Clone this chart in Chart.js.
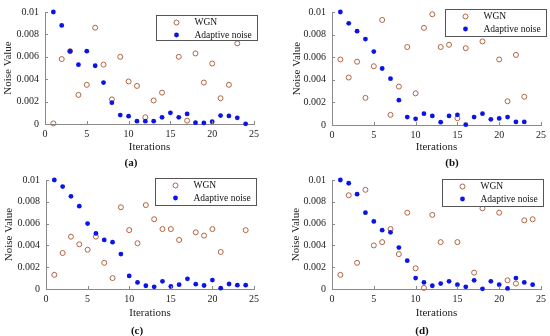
<!DOCTYPE html>
<html>
<head>
<meta charset="utf-8">
<script src="https://cdn.jsdelivr.net/npm/chart.js@4.4.1/dist/chart.umd.min.js"></script>
<style>
  body { margin: 0; background: #fff; }
  #wrap { position: relative; width: 550px; height: 336px; }
  #wrap canvas { position: absolute; }
</style>
</head>
<body>
<div id="wrap">
  <canvas id="chartA" width="275" height="168" style="left:0;top:0"></canvas>
  <canvas id="chartB" width="275" height="168" style="left:275px;top:0"></canvas>
  <canvas id="chartC" width="275" height="168" style="left:0;top:168px"></canvas>
  <canvas id="chartD" width="275" height="168" style="left:275px;top:168px"></canvas>
</div>
<script>
// iterations 1..24
const iterations = [1, 2, 3, 4, 5, 6, 7, 8, 9, 10, 11, 12, 13, 14, 15, 16, 17, 18, 19, 20, 21, 22, 23, 24];

// noise values (null = no marker)
const wgnA = [0.00005, 0.0058, 0.0065, 0.0026, 0.0035, 0.0086, 0.0053, 0.0022, 0.006, 0.0038, 0.0034, 0.0006, 0.0021, 0.0028, null, 0.006, 0.0003, 0.0063, 0.0037, 0.0054, 0.0023, 0.0035, 0.0072, null];
const adaptiveA = [0.01, 0.0088, 0.0065, 0.0053, 0.0065, 0.0052, 0.0037, 0.0019, 0.0008, 0.0007, 0.00025, 0.00025, 0.00025, 0.0006, 0.001, 0.0006, 0.0009, 0.00012, 0.0001, 0.0002, 0.00075, 0.00072, 0.00055, 0.00002];

const wgnB = [0.0058, 0.0042, 0.0056, 0.0024, 0.0052, 0.0093, 0.0009, 0.0034, 0.0069, 0.0028, 0.0086, 0.0098, 0.0069, 0.0071, 0.0006, 0.0068, null, 0.0074, null, 0.0058, 0.0021, 0.0062, 0.0025, null];
const adaptiveB = [0.01, 0.009, 0.0083, 0.0076, 0.0065, 0.005, 0.0041, 0.0022, 0.0007, 0.00055, 0.001, 0.0008, 0.00025, 0.0008, 0.0009, 0.00003, 0.0007, 0.001, 0.0005, 0.00058, 0.0007, 0.00027, 0.00027, null];

const wgnC = [0.0013, 0.0033, 0.0048, 0.0041, 0.0036, 0.0048, 0.0024, 0.001, 0.0075, 0.0054, 0.0042, 0.0077, 0.0064, 0.0055, 0.0055, 0.0045, null, 0.0052, 0.0049, 0.0055, 0.0034, null, null, 0.0054];
const adaptiveC = [0.01, 0.0094, 0.0085, 0.0076, 0.006, 0.0051, 0.0045, 0.0043, 0.0032, 0.0012, 0.0006, 0.0003, 0.0002, 0.0007, 0.00023, 0.0004, 0.00093, 0.00044, 0.00032, 0.00082, 0.00008, 0.00046, 0.00035, 0.00035];

const wgnD = [0.0013, 0.0086, 0.0024, 0.0091, 0.004, 0.0043, 0.0055, 0.0032, 0.007, 0.0019, 0.0001, 0.0068, 0.0043, null, 0.0043, null, 0.0015, 0.0074, null, 0.007, 0.0008, 0.0005, 0.0063, 0.0064];
const adaptiveD = [0.01, 0.0097, 0.0087, 0.007, 0.0062, 0.0054, 0.0052, 0.0038, 0.0026, 0.001, 0.0006, 0.0003, 0.0005, 0.0007, 0.0004, 0.0002, 0.0008, 0.00002, 0.0007, 0.0004, 0.00005, 0.001, 0.0006, 0.0004];

const seriesNames = ['WGN', 'Adaptive noise'];
const xTicks = [0, 5, 10, 15, 20, 25];
const yTicks = [0, 0.002, 0.004, 0.006, 0.008, 0.01];
const panelLabels = ['(a)', '(b)', '(c)', '(d)'];

const SERIF = "'Liberation Serif', 'Times New Roman', serif";
const AXIS_GREY = '#8a8a8a';

function toPoints(values) {
  return iterations.map((it, i) => ({ x: it, y: values[i] })).filter(p => p.y !== null);
}

// inward ticks, boxed legend inside the plot and the panel letter
const panelDecor = {
  id: 'panelDecor',
  afterDraw(chart, args, opts) {
    const ctx = chart.ctx;
    const area = chart.chartArea;
    const xs = chart.scales.x, ys = chart.scales.y;
    ctx.save();
    ctx.strokeStyle = AXIS_GREY;
    ctx.lineWidth = 1;
    ctx.beginPath();
    xs.ticks.forEach(t => {
      const px = Math.round(xs.getPixelForValue(t.value)) + 0.5;
      ctx.moveTo(px, area.bottom);
      ctx.lineTo(px, area.bottom - 3);
    });
    ys.ticks.forEach(t => {
      const py = Math.round(ys.getPixelForValue(t.value)) + 0.5;
      ctx.moveTo(area.left, py);
      ctx.lineTo(area.left + 3, py);
    });
    ctx.stroke();

    // legend box
    const w = 101, h = opts.h;
    const bx = Math.round(area.right + opts.dx - w) + 0.5;
    const by = Math.round(area.top + opts.dy) + 0.5;
    ctx.fillStyle = '#fff';
    ctx.fillRect(bx, by, w, h);
    ctx.strokeStyle = '#555';
    ctx.strokeRect(bx, by, w, h);
    ctx.font = '9.5px ' + SERIF;
    ctx.textBaseline = 'middle';
    ctx.textAlign = 'left';
    chart.data.datasets.forEach((ds, i) => {
      const cy = by + 7 + i * 12.5;
      ctx.beginPath();
      ctx.arc(bx + 20, cy, ds.pointRadius, 0, Math.PI * 2);
      if (ds.pointBackgroundColor !== 'transparent') {
        ctx.fillStyle = ds.pointBackgroundColor;
        ctx.fill();
      }
      if (ds.pointBorderWidth > 0) {
        ctx.strokeStyle = ds.pointBorderColor;
        ctx.lineWidth = ds.pointBorderWidth;
        ctx.stroke();
      }
      ctx.fillStyle = '#111';
      ctx.fillText(ds.label, bx + 38, cy);
    });

    // panel letter
    ctx.font = 'bold 11px ' + SERIF;
    ctx.textAlign = 'center';
    ctx.fillStyle = '#111';
    ctx.fillText(opts.label, opts.labelX, 163);
    ctx.restore();
  }
};

function makePanel(id, wgn, adaptive, p) {
  const H = 168, W = 275;
  new Chart(document.getElementById(id), {
    type: 'scatter',
    data: {
      datasets: [
        {
          label: seriesNames[0],
          data: toPoints(wgn),
          pointStyle: 'circle',
          pointRadius: 2.5,
          pointBackgroundColor: 'transparent',
          pointBorderColor: '#b0643f',
          pointBorderWidth: 1,
          order: 1,
          clip: false
        },
        {
          label: seriesNames[1],
          data: toPoints(adaptive),
          pointStyle: 'circle',
          pointRadius: 2.4,
          pointBackgroundColor: '#0a14e6',
          pointBorderColor: '#0a14e6',
          pointBorderWidth: 0,
          order: 0,
          clip: false
        }
      ]
    },
    options: {
      responsive: false,
      animation: false,
      layout: { padding: { left: 0, top: p.top, right: W - p.right, bottom: 0 } },
      plugins: {
        legend: { display: false },
        tooltip: { enabled: false },
        panelDecor: { dx: p.legDx, dy: p.legDy, h: p.legH, label: p.label, labelX: p.labelX }
      },
      scales: {
        x: {
          type: 'linear',
          min: 0, max: 25,
          afterFit: s => { s.height = H - p.bottom; },
          afterBuildTicks: s => { s.ticks = xTicks.map(v => ({ value: v })); },
          grid: { display: true, drawOnChartArea: false, drawTicks: false },
          border: { display: true, color: AXIS_GREY, width: 1 },
          ticks: { padding: 4, color: '#222', font: { family: SERIF, size: 10 } },
          title: {
            display: true, text: 'Iterations', color: '#222',
            font: { family: SERIF, size: 11 },
            padding: { top: 0, bottom: H - p.xTitleY - 6.6 }
          }
        },
        y: {
          type: 'linear',
          min: 0, max: 0.01,
          afterFit: s => { s.width = p.left; },
          afterBuildTicks: s => { s.ticks = yTicks.map(v => ({ value: v })); },
          grid: { display: true, drawOnChartArea: false, drawTicks: false },
          border: { display: true, color: AXIS_GREY, width: 1 },
          ticks: {
            padding: 6, color: '#222', font: { family: SERIF, size: 10 },
            callback: v => String(+v.toFixed(3))
          },
          title: {
            display: true, text: 'Noise Value', color: '#222',
            font: { family: SERIF, size: 11 },
            padding: { top: p.yTitleX - 6.6, bottom: 0 }
          }
        }
      }
    },
    plugins: [panelDecor]
  });
}

makePanel('chartA', wgnA, adaptiveA, { left: 45, right: 254, top: 10, bottom: 124, xTitleY: 147.5, yTitleX: 8.5, legDx: 3, legDy: 3, legH: 25, label: panelLabels[0], labelX: 131 });
makePanel('chartB', wgnB, adaptiveB, { left: 57, right: 266, top: 10, bottom: 125, xTitleY: 147.5, yTitleX: 21.7, legDx: 5, legDy: -3, legH: 27, label: panelLabels[1], labelX: 177 });
makePanel('chartC', wgnC, adaptiveC, { left: 46, right: 254, top: 6, bottom: 121, xTitleY: 145, yTitleX: 9.5, legDx: 2, legDy: -2, legH: 27, label: panelLabels[2], labelX: 137 });
makePanel('chartD', wgnD, adaptiveD, { left: 57, right: 266, top: 6, bottom: 121, xTitleY: 145, yTitleX: 21, legDx: 2, legDy: -1, legH: 27, label: panelLabels[3], labelX: 147 });
</script>
</body>
</html>
